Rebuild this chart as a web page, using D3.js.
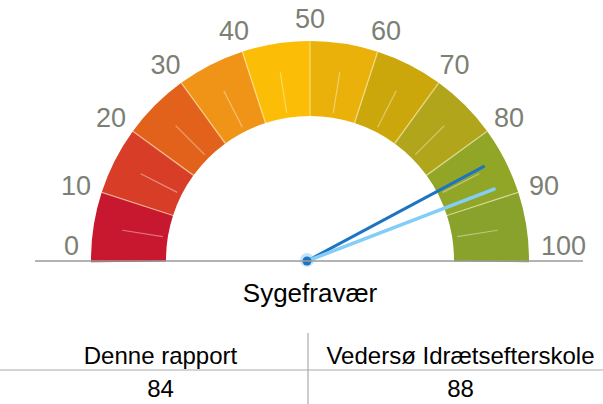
<!DOCTYPE html>
<html>
<head>
<meta charset="utf-8">
<script src="https://cdn.jsdelivr.net/npm/d3@7"></script>
<style>
  html, body { margin: 0; padding: 0; background: #fff; }
  svg { display: block; font-family: "Liberation Sans", Arial, sans-serif; }
</style>
</head>
<body>
<svg id="chart" width="603" height="404"></svg>
<script>
// gauge data
const bandEdges = [0, 10, 20, 30, 40, 50, 60, 70, 80, 90, 100];
const tickLabels = ['0', '10', '20', '30', '40', '50', '60', '70', '80', '90', '100'];
const seriesNames = ['Denne rapport', 'Vedersø Idrætsefterskole'];
const seriesValues = [84, 88];
const chartTitle = 'Sygefravær';

// styling
const bandColors = ['#c8182f', '#d83e27', '#e2621c', '#ef9416', '#fbbd05',
  '#e9b10a', '#cba70c', '#b1a61b', '#91a626', '#89a22b'];
const needleColors = ['#1c74c2', '#84cdf6'];

const svg = d3.select('#chart');
const cx = 310, cy = 260, rIn = 144, rOut = 219, baseY = 261;
const labelR = 231, digitH = 20;

const angle = d3.scaleLinear().domain([0, 100]).range([-Math.PI / 2, Math.PI / 2]);

const gauge = svg.append('g')
  .attr('transform', `translate(${cx},${cy})`);

const arc = d3.arc().innerRadius(rIn).outerRadius(rOut);
const bands = d3.range(bandEdges.length - 1).map((i) => ({
  from: bandEdges[i], to: bandEdges[i + 1], color: bandColors[i]
}));

gauge.selectAll('path.band')
  .data(bands)
  .enter()
  .append('path')
  .attr('class', 'band')
  .attr('fill', (d) => d.color)
  .attr('d', (d) => arc({
    // first/last band run a hair past horizontal so they meet the base line
    startAngle: angle(d.from) - (d.from === 0 ? 0.01 : 0),
    endAngle: angle(d.to) + (d.to === 100 ? 0.01 : 0)
  }));

const polar = (v, r) => {
  const a = angle(v);
  return [r * Math.sin(a), -r * Math.cos(a)];
};

// band separators
gauge.selectAll('line.sep')
  .data(bandEdges.slice(1, -1))
  .enter()
  .append('line')
  .attr('class', 'sep')
  .attr('x1', (d) => polar(d, rIn)[0])
  .attr('y1', (d) => polar(d, rIn)[1])
  .attr('x2', (d) => polar(d, rOut)[0])
  .attr('y2', (d) => polar(d, rOut)[1])
  .attr('stroke', 'rgba(255,245,200,0.55)')
  .attr('stroke-width', 1.3);

// minor ticks at mid band
gauge.selectAll('line.minor')
  .data(bands.map((b) => (b.from + b.to) / 2))
  .enter()
  .append('line')
  .attr('class', 'minor')
  .attr('x1', (d) => polar(d, rIn + 5)[0])
  .attr('y1', (d) => polar(d, rIn + 5)[1])
  .attr('x2', (d) => polar(d, rIn + 46)[0])
  .attr('y2', (d) => polar(d, rIn + 46)[1])
  .attr('stroke', 'rgba(255,255,255,0.4)')
  .attr('stroke-width', 1.2);

// tick labels: the box's near side sits on the label radius
const ticks = gauge.selectAll('text.tick')
  .data(bandEdges)
  .enter()
  .append('text')
  .attr('class', 'tick')
  .attr('text-anchor', 'middle')
  .attr('dominant-baseline', 'central')
  .attr('font-size', 27)
  .attr('fill', '#7b7f75')
  .text((d, i) => tickLabels[i]);

ticks.each(function (d) {
  const w = this.getComputedTextLength();
  const a = angle(d);
  const [ax, ay] = polar(d, labelR);
  const x = ax + (w / 2) * Math.sin(a);
  const y = Math.min(ay - (digitH / 2) * Math.cos(a), -14);
  d3.select(this).attr('x', x).attr('y', y);
});

// base line
svg.append('line')
  .attr('x1', 35).attr('x2', 583)
  .attr('y1', baseY).attr('y2', baseY)
  .attr('stroke', '#9a9a9a')
  .attr('stroke-width', 1.5);

// needles
gauge.selectAll('line.needle')
  .data(seriesValues)
  .enter()
  .append('line')
  .attr('class', 'needle')
  .attr('x1', -3).attr('y1', 1)
  .attr('x2', (d) => polar(d, 198)[0])
  .attr('y2', (d) => polar(d, 198)[1] + 2)
  .attr('stroke', (d, i) => needleColors[i])
  .attr('stroke-width', (d, i) => (i === 0 ? 3 : 3.5))
  .attr('stroke-linecap', 'round');

gauge.append('circle')
  .attr('cx', -3).attr('cy', 0).attr('r', 7)
  .attr('fill', needleColors[1]).attr('opacity', 0.5);
gauge.append('circle')
  .attr('cx', -3).attr('cy', 1).attr('r', 4.5)
  .attr('fill', needleColors[0]);

// title
svg.append('text')
  .attr('x', cx).attr('y', 302)
  .attr('text-anchor', 'middle')
  .attr('font-size', 26)
  .attr('fill', '#000')
  .text(chartTitle);

// summary table
const col = d3.scaleBand().domain(seriesNames).range([0, 618]);
const table = svg.append('g');

table.append('line')
  .attr('x1', 0).attr('x2', 603)
  .attr('y1', 370).attr('y2', 370)
  .attr('stroke', '#aaa').attr('stroke-width', 1.2);
table.append('line')
  .attr('x1', 308).attr('x2', 308)
  .attr('y1', 333).attr('y2', 404)
  .attr('stroke', '#aaa').attr('stroke-width', 1.2);

table.selectAll('text.head')
  .data(seriesNames)
  .enter()
  .append('text')
  .attr('class', 'head')
  .attr('x', (d) => col(d) + col.bandwidth() / 2 + (d === seriesNames[0] ? 6 : -3))
  .attr('y', 364)
  .attr('text-anchor', 'middle')
  .attr('font-size', 24)
  .attr('fill', '#000')
  .text((d) => d);

table.selectAll('text.val')
  .data(seriesValues)
  .enter()
  .append('text')
  .attr('class', 'val')
  .attr('x', (d, i) => col(seriesNames[i]) + col.bandwidth() / 2 + (i === 0 ? 6 : -3))
  .attr('y', 397)
  .attr('text-anchor', 'middle')
  .attr('font-size', 24)
  .attr('fill', '#000')
  .text((d) => d);
</script>
</body>
</html>
